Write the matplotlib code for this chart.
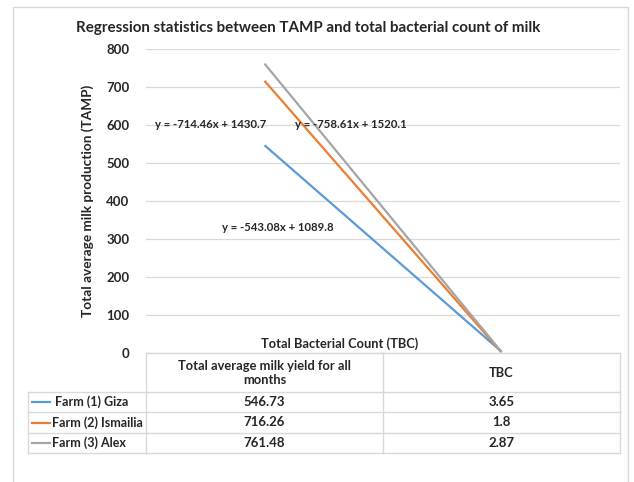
import matplotlib
matplotlib.use("Agg")
import matplotlib.pyplot as plt
import matplotlib.transforms as mtransforms
from matplotlib.lines import Line2D
from matplotlib.patches import Rectangle

# data
farms = ['Farm (1) Giza', 'Farm (2) Ismailia', 'Farm (3) Alex']
categories = ['Total average milk yield for all\nmonths', 'TBC']
milk_yield = [546.73, 716.26, 761.48]
tbc = [3.65, 1.8, 2.87]
tbc_labels = ['3.65', '1.8', '2.87']
equations = ['y = -543.08x + 1089.8', 'y = -714.46x + 1430.7', 'y = -758.61x + 1520.1']
colors = ['#5B9BD5', '#ED7D31', '#A5A5A5']

plt.rcParams['font.family'] = ['Lato', 'DejaVu Sans']
plt.rcParams['font.weight'] = 'bold'
txt_c = '#262626'
fs = 9

W, H = 634, 482
fig = plt.figure(figsize=(W / 100, H / 100), dpi=100)
# pixel coords (origin top-left) -> figure
pix = mtransforms.Affine2D().scale(1 / W, -1 / H).translate(0, 1) + fig.transFigure

x0, x1, ytop, ybot = 146, 620, 49, 353
ax = fig.add_axes([x0 / W, 1 - ybot / H, (x1 - x0) / W, (ybot - ytop) / H])

xs = [0.5, 1.5]
for i in range(len(farms)):
    ax.plot(xs, [milk_yield[i], tbc[i]], color=colors[i], lw=1.6, solid_capstyle='butt')

ax.set_xlim(0, 2)
ax.set_ylim(0, 800)
ax.set_yticks(range(0, 801, 100))
ax.set_xticks([])
ax.grid(axis='y', color='#d9d9d9', lw=0.9)
ax.set_axisbelow(True)
for s in ax.spines.values():
    s.set_visible(False)
ax.tick_params(axis='y', length=0, pad=12, labelsize=9.5, labelcolor=txt_c)
for t in ax.get_yticklabels():
    t.set_fontweight('bold')
ax.set_ylabel('Total average milk production (TAMP)', fontsize=9.8, fontweight='bold',
              color=txt_c, labelpad=9)

# trendline equations
ax.text(0.32, 329, equations[0], fontsize=8.2, fontweight='bold', color=txt_c, va='center')
ax.text(0.038, 600, equations[1], fontsize=8.2, fontweight='bold', color=txt_c, va='center')
ax.text(0.63, 600, equations[2], fontsize=8.2, fontweight='bold', color=txt_c, va='center')

fig.text(308, 28, 'Regression statistics between TAMP and total bacterial count of milk',
         transform=pix, ha='center', va='center', fontsize=10.9, fontweight='bold', color=txt_c)
fig.text(340, 344, 'Total Bacterial Count (TBC)', transform=pix, ha='center', va='center',
         fontsize=9.3, fontweight='bold', color=txt_c)

# data table under the plot
mix = mtransforms.blended_transform_factory(ax.transData, pix)
grid_c = '#d9d9d9'
row_y = [392, 412, 433, 453]
fig.add_artist(Line2D([0, 2], [353, 353], transform=mix, color=grid_c, lw=1))
for yy in row_y:
    fig.add_artist(Line2D([0, 2], [yy, yy], transform=mix, color=grid_c, lw=1))
    fig.add_artist(Line2D([28, x0 + 1], [yy, yy], transform=pix, color=grid_c, lw=1))
fig.add_artist(Line2D([28, 28], [392, 453], transform=pix, color=grid_c, lw=1))
for xx in [0, 1, 2]:
    fig.add_artist(Line2D([xx, xx], [353, 453], transform=mix, color=grid_c, lw=1))

for j, cat in enumerate(categories):
    fig.text(xs[j], 373, cat, transform=mix, ha='center', va='center', fontsize=9.3,
             fontweight='bold', color=txt_c, linespacing=1.3)

for i in range(len(farms)):
    yc = (row_y[i] + row_y[i + 1]) / 2
    fig.text(xs[0], yc, f'{milk_yield[i]:.2f}', transform=mix, ha='center', va='center',
             fontsize=9.5, fontweight='bold', color=txt_c)
    fig.text(xs[1], yc, tbc_labels[i], transform=mix, ha='center', va='center',
             fontsize=9.5, fontweight='bold', color=txt_c)
    fig.add_artist(Line2D([32, 50], [yc, yc], transform=pix, color=colors[i], lw=1.6))
    fig.text(52 if i else 55, yc, farms[i], transform=pix, ha='left', va='center',
             fontsize=fs, fontweight='bold', color=txt_c)

# chart border
fig.add_artist(Rectangle((13, 7), 615, 490, transform=pix, fill=False, ec='#d9d9d9', lw=1))

fig.savefig('out.png', dpi=100)
